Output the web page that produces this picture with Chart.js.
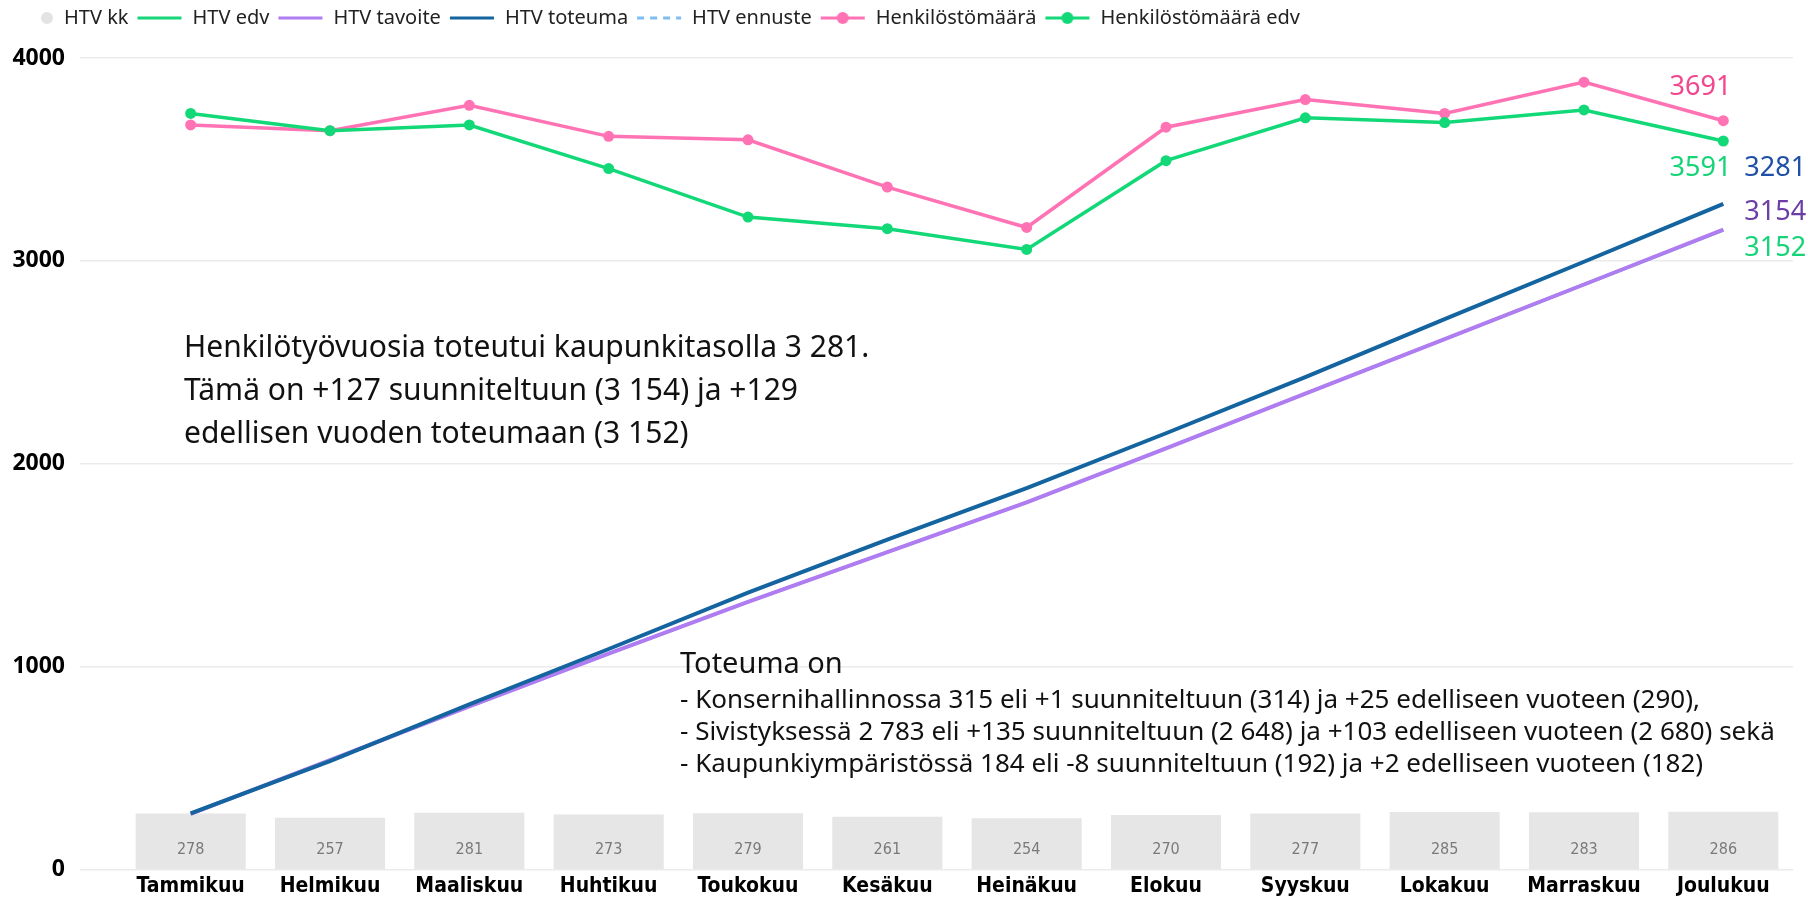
<!DOCTYPE html>
<html>
<head>
<meta charset="utf-8">
<script src="https://cdn.jsdelivr.net/npm/chart.js@4.4.1/dist/chart.umd.min.js"></script>
<style>
html,body{margin:0;padding:0;background:#fff;}
</style>
</head>
<body>
<canvas id="kaavio" width="1808" height="903"></canvas>
<script>
// kuukaudet ja arvot
var kuukaudet = ["Tammikuu","Helmikuu","Maaliskuu","Huhtikuu","Toukokuu","Kesäkuu","Heinäkuu","Elokuu","Syyskuu","Lokakuu","Marraskuu","Joulukuu"];
var htvKk = [278,257,281,273,279,261,254,270,277,285,283,286];
var htvToteuma = [278,535,815,1088,1366,1627,1881,2151,2428,2713,2996,3281];
var htvTavoite = [275,540,805,1065,1320,1565,1810,2076,2346,2615,2884,3154];
var htvEdv = [275,540,805,1065,1320,1565,1810,2076,2346,2615,2884,3152];
var htvEnnuste = [];
var henkilosto = [3670,3642,3767,3614,3597,3364,3165,3659,3795,3727,3881,3691];
var henkilostoEdv = [3727,3642,3670,3455,3216,3159,3057,3494,3705,3682,3744,3591];

var fontti = "'Noto Sans', 'Open Sans', sans-serif";
var kapea = "'DejaVu Sans Condensed', 'Liberation Sans Narrow', sans-serif";

// legendan symbolit
function symboli(vari, tyyppi){
	var c = document.createElement('canvas');
	c.width = 46; c.height = 14;
	var g = c.getContext('2d');
	if(tyyppi == 'ympyra'){
		g.fillStyle = vari;
		g.beginPath(); g.arc(39, 7, 6, 0, Math.PI*2); g.fill();
		return c;
	}
	g.strokeStyle = vari;
	g.lineWidth = 3;
	if(tyyppi == 'katko') g.setLineDash([7,6]);
	g.beginPath(); g.moveTo(1, 7); g.lineTo(45, 7); g.stroke();
	if(tyyppi == 'piste'){
		g.fillStyle = vari;
		g.beginPath(); g.arc(23, 7, 6, 0, Math.PI*2); g.fill();
	}
	return c;
}

// arvot viimeisten pisteiden viereen
var loppuArvot = {
	id:'loppuArvot',
	afterDatasetsDraw:function(chart){
		var g = chart.ctx;
		var merkinnat = [
			{ds:5, arvo:henkilosto[11], vari:'#f2468e', dx:8, dy:-33, tasaus:'right'},
			{ds:6, arvo:henkilostoEdv[11], vari:'#17d478', dx:8, dy:27, tasaus:'right'},
			{ds:3, arvo:htvToteuma[11], vari:'#1f4fa6', dx:21, dy:-36, tasaus:'left'},
			{ds:2, arvo:htvTavoite[11], vari:'#6c3ea5', dx:21, dy:-17, tasaus:'left'},
			{ds:1, arvo:htvEdv[11], vari:'#17d478', dx:21, dy:18, tasaus:'left'}
		];
		g.save();
		g.font = "27px " + fontti;
		g.textBaseline = 'middle';
		merkinnat.forEach(function(m){
			var p = chart.getDatasetMeta(m.ds).data[11];
			g.fillStyle = m.vari;
			g.textAlign = m.tasaus;
			g.fillText(String(m.arvo), p.x + m.dx, p.y + m.dy);
		});
		// pylväiden arvot
		var y0 = chart.scales.y.getPixelForValue(0);
		g.font = "16px " + kapea;
		g.fillStyle = '#7a7a7a';
		g.textAlign = 'center';
		chart.getDatasetMeta(0).data.forEach(function(b, i){
			g.fillText(String(htvKk[i]), b.x, y0 - 20);
		});
		g.restore();
	}
};

// selitystekstit
var tekstit = {
	id:'tekstit',
	afterDraw:function(chart){
		var g = chart.ctx;
		g.save();
		g.fillStyle = '#111';
		g.textBaseline = 'middle';
		g.textAlign = 'left';
		g.font = "30px " + fontti;
		g.fillText("Henkilötyövuosia toteutui kaupunkitasolla 3 281.", 184, 348);
		g.fillText("Tämä on +127 suunniteltuun (3 154) ja +129", 184, 391);
		g.fillText("edellisen vuoden toteumaan (3 152)", 184, 434);
		g.font = "29px " + fontti;
		g.fillText("Toteuma on", 680, 665);
		g.font = "26px " + fontti;
		g.fillText("- Konsernihallinnossa 315 eli +1 suunniteltuun (314) ja +25 edelliseen vuoteen (290),", 680, 701);
		g.fillText("- Sivistyksessä 2 783 eli +135 suunniteltuun (2 648) ja +103 edelliseen vuoteen (2 680) sekä", 680, 733);
		g.fillText("- Kaupunkiympäristössä 184 eli -8 suunniteltuun (192) ja +2 edelliseen vuoteen (182)", 680, 765);
		g.restore();
	}
};

// legendalle lisää korkeutta
var legendaKorkeus = {
	id:'legendaKorkeus',
	beforeInit:function(chart){
		var fit = chart.legend.fit;
		chart.legend.fit = function(){
			fit.call(this);
			this.height = 58;
		};
	}
};

var symbolit = [
	symboli('#e3e3e3','ympyra'),
	symboli('#16d67a','viiva'),
	symboli('#b07cf2','viiva'),
	symboli('#1464a0','viiva'),
	symboli('#7fbdf2','katko'),
	symboli('#ff73b4','piste'),
	symboli('#12d878','piste')
];

var kaavio = new Chart(document.getElementById('kaavio'), {
	type:'bar',
	data:{
		labels:kuukaudet,
		datasets:[
			{type:'bar', label:'HTV kk', data:htvKk, backgroundColor:'#e6e6e6', barPercentage:0.79, categoryPercentage:1, order:10},
			{type:'line', label:'HTV edv', data:htvEdv, borderColor:'#16d67a', borderWidth:3, pointRadius:0, order:6},
			{type:'line', label:'HTV tavoite', data:htvTavoite, borderColor:'#b07cf2', borderWidth:4, pointRadius:0, order:5},
			{type:'line', label:'HTV toteuma', data:htvToteuma, borderColor:'#1464a0', borderWidth:4, pointRadius:0, order:4},
			{type:'line', label:'HTV ennuste', data:htvEnnuste, borderColor:'#7fbdf2', borderDash:[7,6], borderWidth:3, pointRadius:0, order:3},
			{type:'line', label:'Henkilöstömäärä', data:henkilosto, borderColor:'#ff73b4', backgroundColor:'#ff73b4', borderWidth:3.5, pointRadius:5.5, pointBorderWidth:0, order:2},
			{type:'line', label:'Henkilöstömäärä edv', data:henkilostoEdv, borderColor:'#12d878', backgroundColor:'#12d878', borderWidth:3.5, pointRadius:5.5, pointBorderWidth:0, order:1}
		]
	},
	options:{
		responsive:false,
		animation:false,
		layout:{padding:{left:0, right:15, top:0, bottom:0}},
		plugins:{
			tooltip:{enabled:false},
			legend:{
				position:'top',
				align:'start',
				labels:{
					usePointStyle:true,
					pointStyleWidth:46,
					padding:8,
					color:'#222',
					font:{family:fontti, size:20},
					generateLabels:function(chart){
						return chart.data.datasets.map(function(d, i){
							return {text:d.label, pointStyle:symbolit[i], datasetIndex:i, hidden:false, fontColor:'#222', lineWidth:0, strokeStyle:'rgba(0,0,0,0)', fillStyle:'rgba(0,0,0,0)'};
						});
					}
				}
			}
		},
		scales:{
			x:{
				grid:{display:false, drawTicks:false},
				border:{display:false},
				ticks:{color:'#000', padding:4, font:{family:kapea, size:21, weight:'bold'}}
			},
			y:{
				min:0, max:4000,
				border:{display:false},
				grid:{color:'#ebebeb', lineWidth:1.5, tickLength:41, tickColor:'#ebebeb'},
				ticks:{stepSize:1000, color:'#000', padding:15, font:{family:fontti, size:23, weight:'bold'},
					callback:function(v){ return String(v); }},
				afterFit:function(s){ s.width = 121; }
			}
		}
	},
	plugins:[loppuArvot, tekstit, legendaKorkeus]
});
</script>
</body>
</html>
